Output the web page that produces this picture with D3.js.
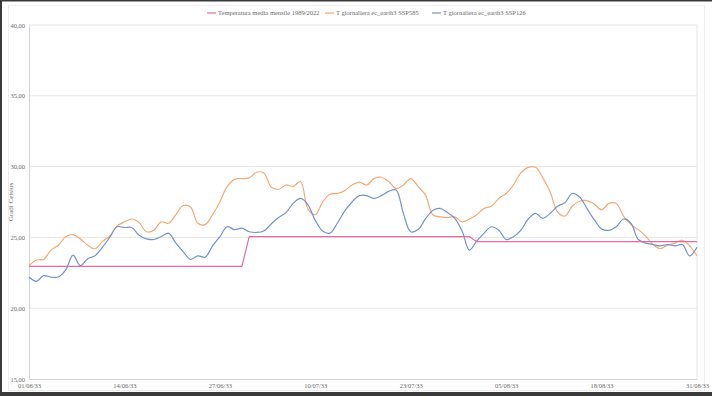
<!DOCTYPE html>
<html>
<head>
<meta charset="utf-8">
<script src="https://cdn.jsdelivr.net/npm/d3@7"></script>
<style>
  body { margin: 0; background: #fff; }
  svg { display: block; font-family: "Liberation Serif", "DejaVu Serif", serif; }
</style>
</head>
<body>
<main></main>
<script>
const seriesNames = ["Temperatura media mensile 1989/2022", "T giornaliera ec_earth3 SSP585", "T giornaliera ec_earth3 SSP126"]
const seriesColors = ["#e56aa3", "#f3aa74", "#7592ca"]
const xTickLabels = ["01/06/33", "14/06/33", "27/06/33", "10/07/33", "23/07/33", "05/08/33", "18/08/33", "31/08/33"]
const yTicks = [15, 20, 25, 30, 35, 40]

// monthly mean: June, July, August
const monthlyMean = [22.95, 25.05, 24.7]

const ssp585 = [23.0, 23.4, 23.45, 24.1, 24.45, 25.05, 25.2, 24.9, 24.45, 24.2,
  24.7, 25.1, 25.8, 26.1, 26.3, 26.05, 25.4, 25.5, 26.1, 26.0,
  26.6, 27.25, 27.15, 26.0, 25.9, 26.6, 27.5, 28.6, 29.1, 29.15,
  29.2, 29.6, 29.55, 28.55, 28.4, 28.7, 28.6, 28.95, 27.0, 26.6,
  27.5, 28.05, 28.1, 28.3, 28.7, 28.9, 28.7, 29.15, 29.25, 28.95,
  28.45, 28.7, 29.15, 28.6, 28.0, 26.6, 26.45, 26.4, 26.45, 26.1,
  26.3, 26.6, 27.05, 27.2, 27.75, 28.1, 28.7, 29.55, 29.95, 29.95,
  29.2, 28.2, 26.8, 26.5, 27.2, 27.55, 27.6, 27.35, 26.95, 27.4,
  27.4, 26.5, 25.9, 25.55, 25.1, 24.5, 24.2, 24.45, 24.6, 24.8,
  24.4, 23.7]

const ssp126 = [22.2, 21.9, 22.3, 22.2, 22.2, 22.7, 23.75, 23.0, 23.5, 23.7,
  24.3, 25.0, 25.75, 25.7, 25.7, 25.15, 24.9, 24.85, 25.05, 25.3,
  24.6, 24.0, 23.45, 23.7, 23.6, 24.4, 25.05, 25.75, 25.55, 25.65,
  25.4, 25.35, 25.45, 25.95, 26.4, 26.75, 27.4, 27.75, 27.3, 26.2,
  25.45, 25.3, 26.0, 26.85, 27.5, 27.95, 27.95, 27.75, 27.95, 28.25,
  28.35, 26.7, 25.4, 25.55, 26.3, 26.9, 27.05, 26.75, 26.35, 25.45,
  24.1, 24.75, 25.3, 25.75, 25.5, 24.85, 25.05, 25.5, 26.3, 26.7,
  26.35, 26.7, 27.2, 27.45, 28.1, 27.85, 27.05, 26.25, 25.6, 25.5,
  25.75, 26.3, 26.0, 24.85, 24.6, 24.5, 24.4, 24.5, 24.4, 24.5,
  23.7, 24.3]

const width = 712
const height = 396
const margin = { top: 25, right: 15, bottom: 17, left: 29 }

const days = d3.timeDay.range(new Date(2033, 5, 1), new Date(2033, 8, 1))
const monthly = days.map(d => monthlyMean[d.getMonth() - 5])

const svg = d3.select("main").append("svg")
  .attr("width", width)
  .attr("height", height)

// outer frame of the screenshot
svg.append("rect").attr("x", 0).attr("y", 0).attr("width", width).attr("height", height).attr("fill", "#3a3a3a")
svg.append("rect").attr("x", 2).attr("y", 1.5).attr("width", width - 2).attr("height", height - 5.5).attr("fill", "#fff")
svg.append("rect").attr("x", 8.5).attr("y", 5.5).attr("width", 696).attr("height", 385)
  .attr("fill", "none").attr("stroke", "#ededed")

const x = d3.scaleTime()
  .domain([days[0], days[days.length - 1]])
  .range([margin.left, width - margin.right])

const y = d3.scaleLinear()
  .domain([15, 40])
  .range([height - margin.bottom, margin.top])

// gridlines
svg.append("g")
  .selectAll("line")
  .data(yTicks.slice(1))
  .enter().append("line")
  .attr("x1", margin.left).attr("x2", width - margin.right)
  .attr("y1", d => y(d)).attr("y2", d => y(d))
  .attr("stroke", "#e6e6e6").attr("stroke-width", 1)

svg.append("line")
  .attr("x1", width - margin.right).attr("x2", width - margin.right)
  .attr("y1", margin.top).attr("y2", height - margin.bottom)
  .attr("stroke", "#e6e6e6")

// axes
let yAxis = svg.append("g")
  .attr("transform", `translate(${margin.left},0)`)
  .call(d3.axisLeft(y).tickValues(yTicks).tickSize(0).tickPadding(4)
    .tickFormat(d => d3.format(".2f")(d).replace(".", ",")))
yAxis.select(".domain").attr("stroke", "#d4d4d4")
yAxis.selectAll("text").attr("fill", "#6a6a6a").attr("font-size", 6.5).attr("font-family", "Liberation Serif")

const tickDates = xTickLabels.map(s => {
  let [dd, mm, yy] = s.split("/").map(Number)
  return new Date(2000 + yy, mm - 1, dd)
})

let xAxis = svg.append("g")
  .attr("transform", `translate(0,${height - margin.bottom})`)
  .call(d3.axisBottom(x).tickValues(tickDates).tickSize(0).tickPadding(4)
    .tickFormat((d, i) => xTickLabels[i]))
xAxis.select(".domain").attr("stroke", "#d4d4d4")
xAxis.selectAll("text").attr("fill", "#6a6a6a").attr("font-size", 6.5).attr("font-family", "Liberation Serif")

svg.append("text")
  .attr("transform", `translate(13,${(margin.top + height - margin.bottom) / 2}) rotate(-90)`)
  .attr("text-anchor", "middle")
  .attr("font-size", 7)
  .attr("fill", "#6a6a6a")
  .text("Gradi Celsius")

// series lines
const smooth = d3.line()
  .x((d, i) => x(days[i]))
  .y(d => y(d))
  .curve(d3.curveCatmullRom.alpha(0.5))

const straight = d3.line()
  .x((d, i) => x(days[i]))
  .y(d => y(d))

svg.append("path").datum(ssp585)
  .attr("d", smooth).attr("fill", "none")
  .attr("stroke", seriesColors[1]).attr("stroke-width", 1.2)

svg.append("path").datum(ssp126)
  .attr("d", smooth).attr("fill", "none")
  .attr("stroke", seriesColors[2]).attr("stroke-width", 1.2)

svg.append("path").datum(monthly)
  .attr("d", straight).attr("fill", "none")
  .attr("stroke", seriesColors[0]).attr("stroke-width", 1.2)

// legend
const legendX = [207, 325, 432]
let legend = svg.append("g")
seriesNames.forEach((name, i) => {
  let g = legend.append("g").attr("transform", `translate(${legendX[i]},13)`)
  g.append("line").attr("x1", 0).attr("x2", 9).attr("y1", 0).attr("y2", 0)
    .attr("stroke", seriesColors[i]).attr("stroke-width", 1.2)
  g.append("text").attr("x", 11).attr("y", 2.3)
    .attr("font-size", 6.5).attr("fill", "#6a6a6a")
    .text(name)
})
</script>
</body>
</html>
